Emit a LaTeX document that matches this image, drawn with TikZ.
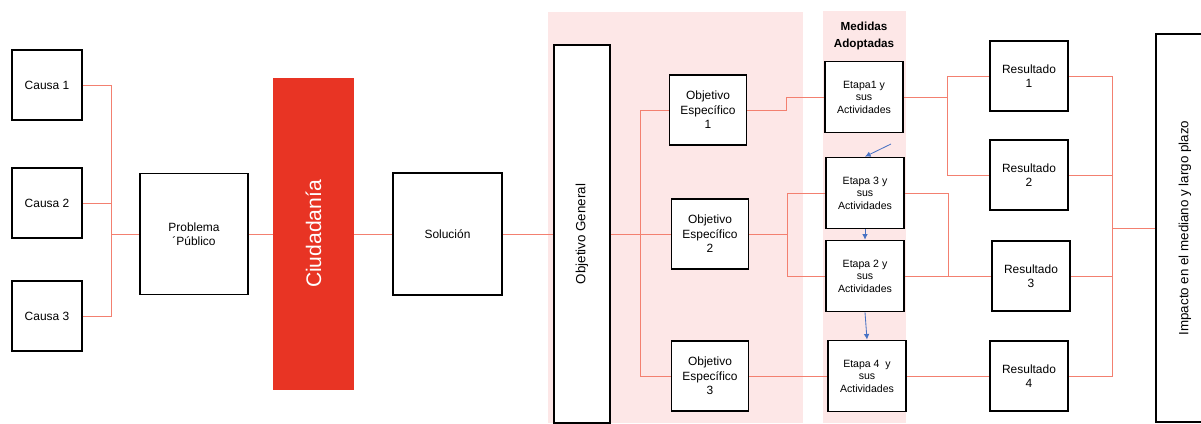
\documentclass[tikz,border=0pt]{standalone}
\usepackage{fontspec}
\setmainfont{Liberation Sans}
\usetikzlibrary{arrows.meta}

\definecolor{linkred}{RGB}{243,128,112}
\definecolor{ciured}{RGB}{232,52,36}
\definecolor{panelpink}{RGB}{253,231,231}
\definecolor{flowblue}{RGB}{72,114,196}

\begin{document}
\begin{tikzpicture}[x=0.025cm, y=-0.025cm,
        box/.style={draw, line width=1.2pt, fill=white, align=center, inner sep=1pt,
                    font=\fontsize{8.5}{10.3}\selectfont},
        small/.style={font=\fontsize{7.5}{8.9}\selectfont},
        link/.style={draw=linkred, line width=0.7pt},
        flow/.style={draw=flowblue, line width=0.6pt, -{Latex[length=4pt, width=4pt]}}]
    \useasboundingbox (0,0) rectangle (1201,423);

    % shaded bands
    \fill [panelpink] (548,12) rectangle (803,423);
    \fill [panelpink] (823,11) rectangle (906,423);
    \node [align=center, font=\bfseries\fontsize{8.3}{11.5}\selectfont] (medidas) at (864,36) {Medidas\\Adoptadas};

    % causes and problem
    \node [box, minimum width=1.75cm, minimum height=1.75cm] (c1) at (47,85) {Causa 1};
    \node [box, minimum width=1.75cm, minimum height=1.75cm] (c2) at (47,203) {Causa 2};
    \node [box, minimum width=1.75cm, minimum height=1.75cm] (c3) at (47,316) {Causa 3};
    \node [box, minimum width=2.7cm, minimum height=3.025cm] (prob) at (194,234) {Problema\\ ´Público};
    \node [fill=ciured, text=white, minimum width=2.025cm, minimum height=7.8cm, inner sep=0pt,
           font=\fontsize{15}{18}\selectfont] (ciud) at (313.5,234) {};
    \node [rotate=90, text=white, font=\fontsize{15}{18}\selectfont] (ciudtxt) at (ciud.center) {Ciudadanía};
    \node [box, minimum width=2.725cm, minimum height=3.05cm] (sol) at (447.5,234) {Solución};
    \node [box, minimum width=1.4cm, minimum height=9.45cm] (og) at (582,234) {};
    \node [rotate=90, font=\fontsize{9.5}{11}\selectfont] (ogtxt) at (og.center) {Objetivo General};

    % specific objectives
    \node [box, minimum width=1.925cm, minimum height=1.75cm] (oe1) at (708,110) {Objetivo\\Específico\\1};
    \node [box, minimum width=1.925cm, minimum height=1.75cm] (oe2) at (710,234) {Objetivo\\Específico\\2};
    \node [box, minimum width=1.925cm, minimum height=1.75cm] (oe3) at (710,376) {Objetivo\\Específico\\3};

    % stages
    \node [box, small, minimum width=1.95cm, minimum height=1.775cm] (e1) at (864,97) {Etapa1 y\\sus\\Actividades};
    \node [box, small, minimum width=1.95cm, minimum height=1.775cm] (e3) at (865,193) {Etapa 3 y\\sus\\Actividades};
    \node [box, small, minimum width=1.95cm, minimum height=1.775cm] (e2) at (865,276) {Etapa 2 y\\sus\\Actividades};
    \node [box, small, minimum width=1.95cm, minimum height=1.775cm] (e4) at (867,376) {Etapa 4\ \ y\\sus\\Actividades};

    % results and impact
    \node [box, minimum width=1.95cm, minimum height=1.75cm] (r1) at (1029,76) {Resultado\\1};
    \node [box, minimum width=1.95cm, minimum height=1.75cm] (r2) at (1029,175) {Resultado\\2};
    \node [box, minimum width=1.95cm, minimum height=1.75cm] (r3) at (1031,276) {Resultado\\3};
    \node [box, minimum width=1.95cm, minimum height=1.75cm] (r4) at (1029,376) {Resultado\\4};
    \node [box, minimum width=1.45cm, minimum height=9.7cm] (imp) at (1185,228) {};
    \node [rotate=90, font=\fontsize{9.5}{11}\selectfont] (imptxt) at (imp.center) {Impacto en el mediano y largo plazo};

    % junction points
    \coordinate (b1) at (111,234);
    \coordinate (b2) at (640,234);
    \coordinate (b3) at (787,234);
    \coordinate (b4) at (947,97);
    \coordinate (b5) at (948,276);
    \coordinate (b6) at (1112,228);
    \coordinate (a0) at (891,144);

    % connectors
    \draw [link] (c1) -| (b1);
    \draw [link] (c2) -| (b1);
    \draw [link] (c3) -| (b1);
    \draw [link] (b1) -- (prob);
    \draw [link] (prob) -- (ciud);
    \draw [link] (ciud) -- (sol);
    \draw [link] (sol) -- (og);
    \draw [link] (og) -- (b2);
    \draw [link] (b2) |- (oe1);
    \draw [link] (b2) -- (oe2);
    \draw [link] (b2) |- (oe3);
    \draw [link] (oe1.east) -- ++(39,0) |- (e1.west);
    \draw [link] (oe2) -- (b3);
    \draw [link] (b3) |- (e3);
    \draw [link] (b3) |- (e2);
    \draw [link] (oe3) -- (e4);
    \draw [link] (e1) -- (b4);
    \draw [link] (b4) |- (r1);
    \draw [link] (b4) |- (r2);
    \draw [link] (e3) -| (b5);
    \draw [link] (e2) -- (r3);
    \draw [link] (e4) -- (r4);
    \draw [link] (r1) -| (b6);
    \draw [link] (r2) -| (b6);
    \draw [link] (r3) -| (b6);
    \draw [link] (r4) -| (b6);
    \draw [link] (b6) -- (imp);

    % order of stages
    \draw [flow] (a0) -- (e3.north);
    \draw [flow] (e3.south) -- (e2.north);
    \draw [flow] (e2.south) -- (e4.north);
\end{tikzpicture}
\end{document}
